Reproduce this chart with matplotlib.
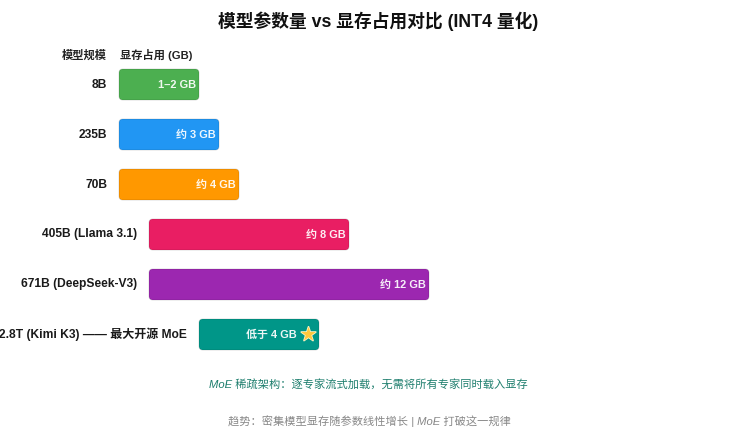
import matplotlib.pyplot as plt
import matplotlib.patheffects as pe
from matplotlib.patches import FancyBboxPatch

plt.rcParams['font.family'] = ['Liberation Sans', 'Noto Sans CJK SC', 'DejaVu Sans']

# data
models = ['8B', '235B', '70B', '405B (Llama 3.1)', '671B (DeepSeek-V3)',
          '2.8T (Kimi K3) —— 最大开源 MoE']
vram_gb = [2, 3, 4, 8, 12, 4]
vram_text = ['1–2 GB', '约 3 GB', '约 4 GB', '约 8 GB', '约 12 GB', '低于 4 GB']
colors = ['#4CAF50', '#2196F3', '#FF9800', '#E91E63', '#9C27B0', '#009688']

title = '模型参数量 vs 显存占用对比 (INT4 量化)'
note_moe = 'MoE 稀疏架构：逐专家流式加载，无需将所有专家同时载入显存'
note_trend = '趋势：密集模型显存随参数线性增长 | MoE 打破这一规律'

# layout (pixels)
W, H = 730, 430
row_top0, row_step, bar_h = 69, 50, 31
bar_x0 = 119
row_indent = [0, 0, 0, 30, 30, 80]


def px_width(gb):
    return 40 + 20 * gb


def fs(px):
    return px * 0.72


fig = plt.figure(figsize=(W / 100, H / 100), dpi=100)
ax = fig.add_axes([0, 0, 1, 1])
ax.set_xlim(0, W)
ax.set_ylim(H, 0)
ax.axis('off')

ax.text(378, 21, title, ha='center', va='center', fontsize=fs(17.7),
        fontweight='bold', color='#111111')

ax.text(107, 55, '模型规模', ha='right', va='center', fontsize=fs(11.2),
        fontweight='bold', color='#222222')
ax.text(120, 55, '显存占用 (GB)', ha='left', va='center', fontsize=fs(11.2),
        fontweight='bold', color='#222222')

for i, (name, gb, txt, c) in enumerate(zip(models, vram_gb, vram_text, colors)):
    top = row_top0 + i * row_step
    left = bar_x0 + row_indent[i]
    w = px_width(gb)
    box = FancyBboxPatch((left, top), w, bar_h,
                         boxstyle='round,pad=0,rounding_size=4',
                         facecolor=c, edgecolor=(0, 0, 0, 0.12), lw=0.8)
    ax.add_patch(box)
    cy = top + bar_h / 2
    ax.text(left - 12, cy, name, ha='right', va='center', fontsize=fs(12),
            fontweight='bold', color='#1a1a1a')
    if i == len(models) - 1:
        ax.text(left + w - 2, cy + 0.5, '★', ha='right', va='center',
                fontsize=fs(19), color='#FFC83D', family='DejaVu Sans',
                path_effects=[pe.withStroke(linewidth=1.2, foreground='#fff3c4')])
        ax.text(left + w - 22, cy, txt, ha='right', va='center',
                fontsize=fs(11), fontweight='bold', color='white', alpha=0.92)
    else:
        ax.text(left + w - 3, cy, txt, ha='right', va='center',
                fontsize=fs(11), fontweight='bold', color='white', alpha=0.92)

ax.text(368, 385, note_moe, ha='center', va='center', fontsize=fs(11.2),
        style='italic', color='#1f7f6e')
ax.text(369, 421, note_trend, ha='center', va='center', fontsize=fs(11.2),
        style='italic', color='#888888')

fig.savefig('out.png', dpi=100)
